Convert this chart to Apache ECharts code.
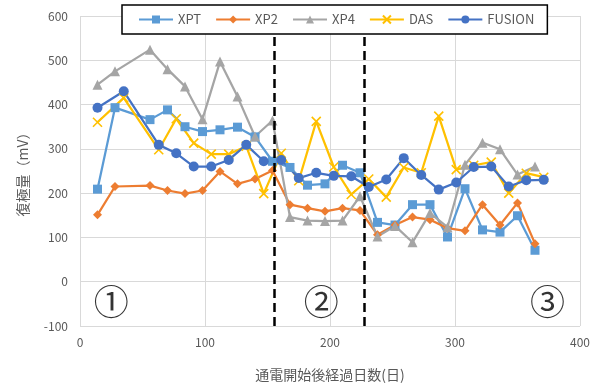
<!DOCTYPE html>
<html>
<head>
<meta charset="utf-8">
<script src="https://cdn.jsdelivr.net/npm/echarts@6/dist/echarts.min.js"></script>
<style>
  html, body { margin: 0; padding: 0; background: #fff; }
  #chart { width: 593px; height: 389px; }
</style>
</head>
<body>
<div id="chart"></div>
<script>
// Sampling days (days since energization)
const daysA = [14, 28, 56, 70, 84, 98, 112, 126, 140, 154, 168, 182, 196, 210, 224, 238, 252, 266, 280, 294, 308, 322, 336, 350, 364];
const daysB = [14, 35, 63, 77, 91, 105, 119, 133, 147, 161, 175, 189, 203, 217, 231, 245, 259, 273, 287, 301, 315, 329, 343, 357, 371];

// Repolarization (mV) per method
const xpt    = [209, 393, 366, 388, 350, 339, 343, 349, 327, 272, 258, 218, 221, 263, 246, 134, 128, 174, 174, 101, 210, 117, 112, 149, 71];
const xp2    = [151, 215, 217, 206, 199, 206, 249, 221, 232, 251, 174, 166, 159, 166, 161, 106, 128, 146, 140, 121, 115, 174, 128, 178, 86];
const xp4    = [445, 475, 524, 480, 441, 367, 497, 418, 328, 364, 146, 138, 137, 138, 193, 102, 126, 89, 155, 123, 264, 314, 299, 242, 260];
const das    = [360, 415, 298, 368, 313, 288, 288, 306, 199, 290, 228, 362, 259, 197, 232, 191, 258, 246, 374, 253, 263, 270, 200, 245, 236];
const fusion = [393, 430, 309, 290, 260, 260, 275, 309, 272, 275, 234, 246, 239, 238, 214, 231, 279, 241, 208, 224, 259, 260, 215, 229, 230];

// Period boundaries (days) and period labels
const boundaries = [155, 227];
const periodLabels = ['①', '②', '③'];
const periodDays = [25, 193, 374];
const periodLevel = -46;

const xTicks = { min: 0, max: 400, interval: 100 };
const yTicks = { min: -100, max: 600, interval: 100 };

const pair = (days, vals) => days.map((d, i) => [d, vals[i]]);

const FONT = '"Noto Sans CJK JP", "Noto Sans", sans-serif';
const TXT = '#595959';

function lineSeries(name, days, vals, color, symbol, size, extra) {
  return Object.assign({
    name: name,
    type: 'line',
    data: pair(days, vals),
    symbol: symbol,
    symbolSize: size,
    showAllSymbol: true,
    lineStyle: { color: color, width: 2.25 },
    itemStyle: { color: color, borderColor: color, borderWidth: 0 },
    emphasis: { disabled: true },
    z: 3
  }, extra || {});
}

const chart = echarts.init(document.getElementById('chart'), null, { renderer: 'canvas' });

const series = [
  lineSeries('XPT', daysA, xpt, '#5B9BD5', 'rect', 9),
  lineSeries('XP2', daysA, xp2, '#ED7D31', 'diamond', 9),
  lineSeries('XP4', daysA, xp4, '#A5A5A5', 'triangle', 10),
  lineSeries('DAS', daysB, das, '#FFC000', 'path://M0,0L10,10M10,0L0,10', 9, {
    itemStyle: { color: 'none', borderColor: '#FFC000', borderWidth: 1.6 }
  }),
  lineSeries('FUSION', daysB, fusion, '#4472C4', 'circle', 10),
  {
    name: 'periods',
    type: 'scatter',
    data: periodDays.map((d, i) => ({ value: [d, periodLevel], name: periodLabels[i] })),
    symbolSize: 0,
    silent: true,
    label: {
      show: true,
      position: 'inside',
      formatter: p => p.name,
      fontFamily: FONT,
      fontSize: 35,
      color: '#000'
    },
    markLine: {
      silent: true,
      symbol: ['none', 'none'],
      label: { show: false },
      lineStyle: { color: '#000', type: [9, 5], width: 2.5 },
      data: boundaries.map(b => ({ xAxis: b }))
    },
    z: 2
  }
];

chart.setOption({
  animation: false,
  backgroundColor: '#fff',
  textStyle: { fontFamily: FONT },
  grid: { left: 80, right: 13, top: 16, bottom: 63, containLabel: false },
  legend: {
    data: ['XPT', 'XP2', 'XP4', 'DAS', 'FUSION'],
    left: 122,
    top: 5,
    padding: [8, 13, 8, 16],
    itemGap: 14,
    itemWidth: 34,
    itemHeight: 10,
    backgroundColor: '#fff',
    borderColor: '#000',
    borderWidth: 1.5,
    borderRadius: 0,
    textStyle: { fontFamily: FONT, fontSize: 13, color: TXT },
    z: 10
  },
  xAxis: {
    type: 'value',
    min: xTicks.min, max: xTicks.max, interval: xTicks.interval,
    name: '通電開始後経過日数(日)',
    nameLocation: 'middle',
    nameGap: 42,
    nameTextStyle: { fontFamily: FONT, fontSize: 14, color: TXT },
    axisLine: { show: false },
    axisTick: { show: false },
    axisLabel: { color: TXT, fontSize: 12, margin: 10, fontFamily: FONT },
    splitLine: { show: true, lineStyle: { color: '#D9D9D9', width: 1 } }
  },
  yAxis: {
    type: 'value',
    min: yTicks.min, max: yTicks.max, interval: yTicks.interval,
    name: '復極量（mV）',
    nameLocation: 'middle',
    nameGap: 50,
    nameRotate: 90,
    nameTextStyle: { fontFamily: FONT, fontSize: 14, color: TXT },
    axisLine: { show: false },
    axisTick: { show: false },
    axisLabel: { color: TXT, fontSize: 12, margin: 12, fontFamily: FONT },
    splitLine: { show: true, lineStyle: { color: '#D9D9D9', width: 1 } }
  },
  series: series
});
</script>
</body>
</html>
